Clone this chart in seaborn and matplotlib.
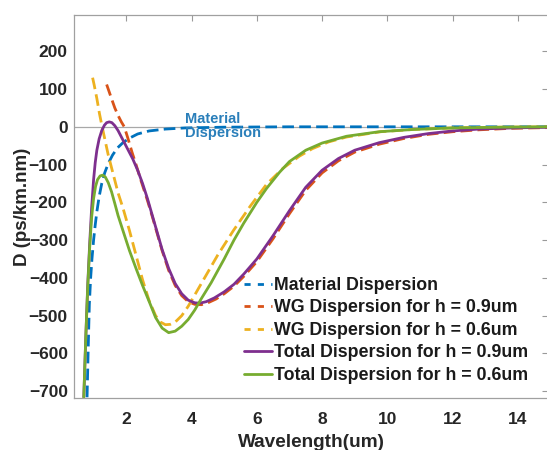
import matplotlib
matplotlib.use("Agg")
import matplotlib.pyplot as plt
import seaborn as sns

# valores (x en um, D en ps/km.nm)
mat_x = [0.80, 0.84, 0.87, 0.91, 0.95, 1.00, 1.05, 1.10, 1.17, 1.25, 1.34, 1.45, 1.58, 1.73, 1.90, 2.10, 2.35, 2.70,
         3.20, 3.80, 5.00, 7.00, 15.0]
mat_y = [-716, -570, -470, -400, -350, -300, -260, -225, -185, -150, -122, -97, -75, -56, -42, -30, -19, -11,
         -6, -3, -1, 0, 0]

wg09_x = [1.40, 1.48, 1.56, 1.65, 1.75, 1.85, 1.94, 2.05, 2.18, 2.30, 2.45, 2.65, 2.80, 2.95, 3.10, 3.30, 3.50, 3.70,
          3.90, 4.10, 4.30, 4.50, 4.75, 5.00, 5.30, 5.60, 6.00, 6.50, 7.00, 7.50, 8.00, 8.50, 9.00, 9.75, 10.5,
          11.25, 12.0, 12.8, 13.8, 15.0]
wg09_y = [112, 92, 72, 50, 30, 13, 0, -30, -68, -100, -142, -195, -238, -283, -328, -380, -420, -447,
          -463, -470, -471, -466, -456, -442, -422, -396, -357, -296, -230, -168, -122, -90, -67, -46, -31,
          -20, -13, -8, -4, -2]

wg06_x = [0.97, 1.02, 1.10, 1.18, 1.25, 1.35, 1.45, 1.60, 1.75, 1.90, 2.10, 2.30, 2.50, 2.70, 2.90, 3.05, 3.20, 3.35,
          3.50, 3.70, 3.90, 4.10, 4.40, 4.80, 5.28, 5.80, 6.30, 6.80, 7.30, 7.70, 8.20, 8.75, 9.80, 10.8, 12.0,
          13.5, 15.0]
wg06_y = [130, 110, 75, 35, 5, -35, -75, -125, -175, -215, -275, -340, -405, -460, -500, -517, -524, -523,
          -517, -500, -475, -445, -400, -340, -275, -210, -152, -110, -78, -58, -40, -27, -13, -7, -3,
          -1, 0]

tot09_x = [0.70, 0.76, 0.82, 0.88, 0.94, 1.00, 1.05, 1.10, 1.17, 1.25, 1.33, 1.40, 1.48, 1.56, 1.65, 1.75, 1.90, 2.05,
           2.20, 2.35, 2.50, 2.65, 2.80, 2.95, 3.10, 3.30, 3.50, 3.70, 3.90, 4.10, 4.25, 4.45, 4.70, 5.00, 5.30,
           5.60, 6.00, 6.50, 7.00, 7.50, 8.00, 8.50, 9.00, 9.75, 10.5, 11.25, 12.0, 12.8, 13.8, 15.0]
tot09_y = [-716, -560, -420, -310, -215, -140, -95, -62, -32, -10, 4, 11, 13, 11, 3, -10, -35, -60,
           -85, -115, -150, -190, -235, -280, -325, -375, -415, -442, -459, -466, -467, -463, -453, -437, -417,
           -390, -350, -288, -222, -160, -115, -84, -62, -42, -28, -18, -11, -6, -3, -1]

tot06_x = [0.70, 0.76, 0.82, 0.88, 0.94, 1.00, 1.06, 1.12, 1.20, 1.28, 1.36, 1.45, 1.55, 1.65, 1.75, 1.90, 2.10, 2.30,
           2.50, 2.70, 2.90, 3.10, 3.30, 3.50, 3.70, 3.90, 4.10, 4.30, 4.60, 5.00, 5.30, 5.60, 6.00, 6.30, 6.70,
           7.00, 7.50, 8.00, 8.75, 9.75, 10.8, 12.0, 13.5, 15.0]
tot06_y = [-716, -560, -425, -320, -240, -190, -158, -140, -130, -128, -133, -148, -172, -203, -235, -275, -328, -375,
           -420, -462, -505, -533, -545, -541, -528, -510, -485, -455, -413, -350, -300, -255, -200, -163, -120,
           -92, -62, -43, -25, -13, -7, -3, -1, 0]

etiquetas = ['Material Dispersion', 'WG Dispersion for h = 0.9um', 'WG Dispersion for h = 0.6um',
             'Total Dispersion for h = 0.9um', 'Total Dispersion for h = 0.6um']
colores = ['#0072BD', '#D95319', '#EDB120', '#7E2F8E', '#77AC30']
y_ticks = [200, 100, 0, -100, -200, -300, -400, -500, -600, -700]
x_ticks = [2, 4, 6, 8, 10, 12, 14]

sns.set_theme(style='white')
plt.rcParams['font.family'] = ['Liberation Sans', 'DejaVu Sans']

fig = plt.figure(figsize=(5.47, 4.5), dpi=100)
ax = fig.add_axes([74 / 547, 52 / 450, 474 / 547, 383 / 450])

ax.axhline(0, color='#a8a8a8', lw=0.9, zorder=0)

series = [(mat_x, mat_y, '--'), (wg09_x, wg09_y, '--'), (wg06_x, wg06_y, '--'),
          (tot09_x, tot09_y, '-'), (tot06_x, tot06_y, '-')]
for (xs, ys, ls), lab, col in zip(series, etiquetas, colores):
    sns.lineplot(x=xs, y=ys, ax=ax, color=col, label=lab, sort=False, lw=2.0, linestyle=ls)
    if ls == '--':
        ax.lines[-1].set_dashes((4.2, 1.9))

ax.set_xlim(0.4, 14.92)
ax.set_ylim(-718, 296)
ax.set_xticks(x_ticks)
ax.set_yticks(y_ticks)
ax.tick_params(direction='in', length=4, width=0.8, color='#9a9a9a', top=True, right=True,
               labelsize=12.5, labelcolor='#262626')
ax.tick_params(axis='x', pad=10)
ax.tick_params(axis='y', pad=4.5)
for lbl in ax.get_xticklabels() + ax.get_yticklabels():
    lbl.set_fontweight('bold')
for s in ax.spines.values():
    s.set_color('#a0a0a0')
    s.set_linewidth(0.9)

ax.set_xlabel('Wavelength(um)', fontsize=13.7, fontweight='bold', color='#262626', labelpad=5)
ax.set_ylabel('D (ps/km.nm)', fontsize=13.5, fontweight='bold', color='#262626', labelpad=-2)

ax.text(3.8, 2, 'Material\nDispersion', color='#2a7fba', fontsize=10.5, fontweight='bold',
        va='center', ha='left', linespacing=1.05)

leg = ax.legend(loc='lower right', bbox_to_anchor=(0.973, 0.018), frameon=False, fontsize=12.8,
                handlelength=1.6, handletextpad=0.1, labelspacing=0.31, borderaxespad=0)
for t in leg.get_texts():
    t.set_fontweight('bold')
    t.set_color('#1a1a1a')
for h in leg.get_lines():
    if h.get_linestyle() == '--':
        h.set_dashes((2.2, 2.6))

plt.savefig('out.png', dpi=100)
